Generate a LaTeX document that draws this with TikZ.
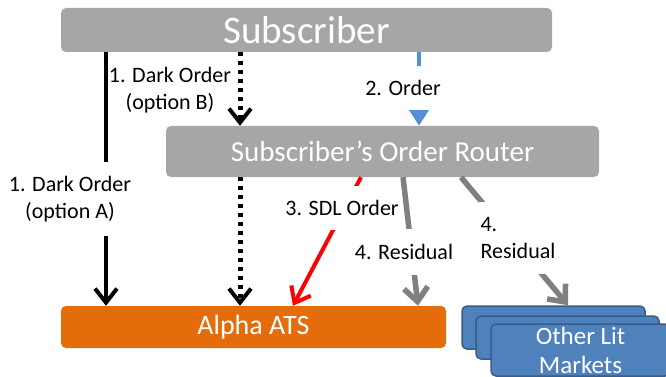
\documentclass[tikz,border=0pt]{standalone}
\usepackage{fontspec}
\setmainfont{Carlito}
\usetikzlibrary{arrows.meta}
\definecolor{boxgray}{HTML}{A6A6A6}
\definecolor{atsorange}{HTML}{E46C0A}
\definecolor{litblue}{HTML}{4F81BD}
\definecolor{litedge}{HTML}{385D8A}
\definecolor{orderblue}{HTML}{558ED5}
\definecolor{residgray}{HTML}{808080}
\tikzset{
  box/.style={rounded corners=5pt, inner sep=0pt, text=white, align=center},
  graybox/.style={box, fill=boxgray},
  litbox/.style={box, fill=litblue, draw=litedge, line width=1.5pt,
    minimum width=183pt, minimum height=43pt, font=\fontsize{25}{29}\selectfont},
  lbl/.style={font=\fontsize{22}{27}\selectfont, align=center, inner sep=2pt},
  gap/.style={lbl, fill=white},
  darkline/.style={line width=4pt, -{Straight Barb[length=14pt,width=22pt]}},
  dotline/.style={line width=5pt, dash pattern=on 4pt off 5pt,
    -{Straight Barb[length=14pt,width=22pt,line width=4pt]}},
  orderline/.style={orderblue, line width=4pt, -{Triangle[length=16pt,width=19pt]}},
  sdlline/.style={red, line width=4pt, -{Straight Barb[length=14pt,width=22pt]}},
  residline/.style={residgray, line width=5.5pt, -{Straight Barb[length=14pt,width=24pt]}}
}
\begin{document}
\begin{tikzpicture}[x=1pt,y=-1pt]
  \useasboundingbox (0,0) rectangle (666,377);
  \clip (0,0) rectangle (666,377);
  % boxes
  \node[graybox, minimum width=491pt, minimum height=44pt, font=\fontsize{39}{44}\selectfont] (sub) at (306.5,30) {Subscriber};
  \node[graybox, minimum width=433pt, minimum height=51pt, font=\fontsize{29}{34}\selectfont] (router) at (382.5,151.5) {Subscriber’s Order Router};
  \node[box, fill=atsorange, minimum width=385pt, minimum height=42pt, font=\fontsize{28}{33}\selectfont] (ats) at (253.5,327) {Alpha ATS};
  \node[litbox] (lit1) at (553.5,327.5) {};
  \node[litbox] (lit2) at (567.5,337.5) {};
  \node[litbox, minimum width=179pt, minimum height=52pt] (lit3) at (580.5,350) {Other Lit\\Markets};
  % columns of the vertical connectors
  \coordinate (colA) at (106,0);
  \coordinate (colB) at (240,0);
  \coordinate (colO) at (419,0);
  % connectors
  \draw[darkline] (sub.south -| colA) -- (ats.north -| colA);
  \draw[dotline] (sub.south -| colB) -- (router.north -| colB);
  \draw[dotline] (router.south -| colB) -- (ats.north -| colB);
  \draw[orderline] (sub.south -| colO) -- (router.north -| colO);
  \draw[sdlline] ([xshift=-21.5pt]router.south) -- ([xshift=39.5pt]ats.north);
  \draw[residline] ([xshift=20.5pt]router.south) -- ([xshift=164.5pt]ats.north);
  \draw[residline] ([xshift=78.5pt]router.south) -- ([xshift=14.5pt]lit1.north);
  % labels
  \node[gap, inner ysep=14pt] (lblA) at (70,199) {1. Dark Order\\(option A)};
  \node[lbl] (lblB) at (170,90) {1. Dark Order\\(option B)};
  \node[gap, inner ysep=14pt] (lblO) at (403,88) {2. Order};
  \node[gap, inner ysep=14pt] (lblS) at (342,208) {3. SDL Order};
  \node[gap, inner ysep=15pt] (lblR1) at (404,252) {4. Residual};
  \node[gap, inner ysep=15pt, align=left] (lblR2) at (518,238) {4.\\Residual};
\end{tikzpicture}
\end{document}
